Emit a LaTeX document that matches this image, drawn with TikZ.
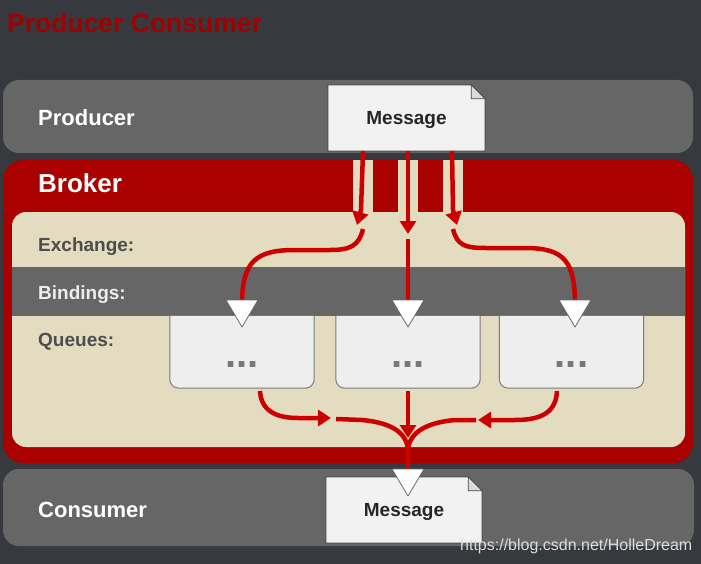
\documentclass[tikz,border=0pt]{standalone}
\usepackage{fontspec}
\setmainfont{Liberation Sans}
\usetikzlibrary{arrows.meta}
\definecolor{bgc}{HTML}{363A3F}
\definecolor{bandc}{HTML}{666666}
\definecolor{brk}{HTML}{AA0000}
\definecolor{titlered}{HTML}{A00000}
\definecolor{beige}{HTML}{E3DCC1}
\definecolor{paper}{HTML}{F2F2F2}
\definecolor{foldc}{HTML}{DADADA}
\definecolor{docedge}{HTML}{4A4A4A}
\definecolor{qfill}{HTML}{EEEEEE}
\definecolor{qedge}{HTML}{7A7A7A}
\definecolor{lbl}{HTML}{4D4D4D}
\definecolor{arr}{HTML}{CC0000}
\definecolor{dotc}{HTML}{777777}
\definecolor{triedge}{HTML}{6A6A6A}
\definecolor{wmc}{HTML}{DDDDDD}
\begin{document}
\begin{tikzpicture}[x=1pt,y=-1pt,
  labtext/.style={anchor=base west, inner sep=0pt, font=\bfseries\fontsize{19}{19}\selectfont, text=lbl},
  bigtext/.style={anchor=base west, inner sep=0pt, font=\bfseries\fontsize{22}{22}\selectfont, text=white},
  msgbox/.style={minimum width=157pt, minimum height=66pt, inner sep=0pt},
  msgtext/.style={font=\bfseries\fontsize{19}{19}\selectfont, text=black!85, text height=13.6pt, text depth=0pt, inner sep=0pt},
  docshape/.style={fill=paper, draw=docedge, line width=1pt},
  foldshape/.style={fill=foldc, draw=docedge, line width=0.8pt, line join=round},
  qbox/.style={minimum width=144pt, minimum height=72pt, inner sep=0pt},
  qshape/.style={fill=qfill, draw=qedge, line width=1pt, rounded corners=9pt},
  qdots/.style={font=\bfseries\fontsize{40}{40}\selectfont, text=dotc, anchor=base, inner sep=0pt},
  flowline/.style={draw=arr, line width=4.5pt},
  arrowed/.style={-{Triangle[length=13pt,width=16pt]}},
  tristyle/.style={fill=white, draw=triedge, line width=0.8pt, line join=round}
]
\fill[bgc] (0,0) rectangle (701,564);
\useasboundingbox (0,0) rectangle (701,564);

% title
\node[anchor=base west, inner sep=0pt, font=\bfseries\fontsize{26.5}{26.5}\selectfont, text=titlered] (title) at (7,33) {Producer Consumer};

% bands
\fill[bandc, rounded corners=16pt] (3,80) rectangle (693,153);
\fill[brk, rounded corners=20pt] (3,160) rectangle (693,463);
\fill[beige, rounded corners=14pt] (12,212) rectangle (685,447);
\fill[beige] (353,160) rectangle (373,220);
\fill[beige] (398,160) rectangle (418,220);
\fill[beige] (443,160) rectangle (463,220);
\fill[bandc] (12,267) rectangle (685,316);
\fill[bandc, rounded corners=16pt] (3,469) rectangle (694,546);

% labels
\node[bigtext] (prod) at (38,126) {Producer};
\node[bigtext, font=\bfseries\fontsize{26}{26}\selectfont] (broker) at (38,193) {Broker};
\node[labtext] (exch) at (38,251) {Exchange:};
\node[labtext, text=white!93!black] (bind) at (38,299) {Bindings:};
\node[labtext] (queues) at (38,346) {Queues:};
\node[bigtext] (cons) at (38,517) {Consumer};

% top message
\node[msgbox] (m1) at (406.5,118) {};
\draw[docshape] (m1.south west) -- (m1.north west) -- ([xshift=-14pt]m1.north east) -- ([yshift=-14pt]m1.north east) -- (m1.south east) -- cycle;
\draw[foldshape] ([xshift=-14pt]m1.north east) -- ([xshift=-14pt,yshift=-14pt]m1.north east) -- ([yshift=-14pt]m1.north east) -- cycle;
\node[msgtext] (m1t) at (m1) {Message};

% queue boxes
\node[qbox] (q1) at (242,352) {};
\node[qbox] (q2) at (408,352) {};
\node[qbox] (q3) at (571.5,352) {};
\foreach \q in {q1,q2,q3}{
  \draw[qshape] (\q.north west) -- (\q.south west) -- (\q.south east) -- (\q.north east);
}
\node[qdots] (q1d) at (242,367) {...};
\node[qdots] (q2d) at (408,367) {...};
\node[qdots] (q3d) at (571.5,367) {...};

% coordinates for arrows
\coordinate (a1s) at (363,151);
\coordinate (a1h) at (361,210);
\coordinate (a1e) at (357,225);
\coordinate (a2s) at (408,151);
\coordinate (a2h) at (408,215);
\coordinate (a2e) at (408,234);
\coordinate (a3s) at (452,151);
\coordinate (a3h) at (453,210);
\coordinate (a3e) at (457,225);

\coordinate (e1) at (363,229);
\coordinate (e2) at (408,239);
\coordinate (e3) at (453,229);

\coordinate (t1) at (242,300);
\coordinate (t2) at (408,300);
\coordinate (t3) at (575,300);
\coordinate (t4) at (408,469);

% top arrows from message into exchange
\draw[flowline, arrowed] (a1s) -- (a1h) -- (a1e);
\draw[flowline, arrowed] (a2s) -- (a2h) -- (a2e);
\draw[flowline, arrowed] (a3s) -- (a3h) -- (a3e);

% exchange to bindings
\draw[flowline] (e1) .. controls (359,246) and (350,250) .. (330,250) -- (295,250) .. controls (255,250) and (242,262) .. ([yshift=-5pt]t1);
\draw[flowline] (e2) -- ([yshift=-5pt]t2);
\draw[flowline] (e3) .. controls (457,246) and (466,248) .. (486,248) -- (525,248) .. controls (565,248) and (575,262) .. ([yshift=-5pt]t3);

% queues to consumer
\coordinate (b1s) at (260,391);
\coordinate (b1e) at (331,418);
\coordinate (b2s) at (408,391);
\coordinate (b2e) at (408,438);
\coordinate (b3s) at (557,391);
\coordinate (b3e) at (478,420);
\coordinate (n1) at (336,419);
\coordinate (n2) at (476,420);
\coordinate (nj) at (408,452);

\draw[flowline, arrowed] (b1s) .. controls (261,410) and (275,418) .. (298,418) -- (b1e);
\draw[flowline, arrowed] (b2s) -- (b2e);
\draw[flowline, arrowed] (b3s) .. controls (556,410) and (545,420) .. (515,420) -- (b3e);
\draw[flowline] (n1) -- (362,420) .. controls (395,423) and (408,435) .. (nj);
\draw[flowline] (n2) -- (455,420) .. controls (422,423) and (408,435) .. (nj);
\draw[flowline] (nj) -- ([yshift=-6pt]t4);

% bottom message
\node[msgbox, minimum width=156pt] (m2) at (404,510) {};
\draw[docshape] (m2.south west) -- (m2.north west) -- ([xshift=-14pt]m2.north east) -- ([yshift=-14pt]m2.north east) -- (m2.south east) -- cycle;
\draw[foldshape] ([xshift=-14pt]m2.north east) -- ([xshift=-14pt,yshift=-14pt]m2.north east) -- ([yshift=-14pt]m2.north east) -- cycle;
\node[msgtext] (m2t) at (404,510) {Message};

% triangles
\foreach \t in {t1,t2,t3,t4}{
  \draw[tristyle] ([xshift=-16pt]\t) -- ([xshift=16pt]\t) -- ([yshift=-27pt]\t) -- cycle;
}

% watermark
\node[anchor=base west, inner sep=0pt, font=\fontsize{16}{16}\selectfont, text=wmc] (wm) at (460,550) {https://blog.csdn.net/HolleDream};
\end{tikzpicture}
\end{document}
